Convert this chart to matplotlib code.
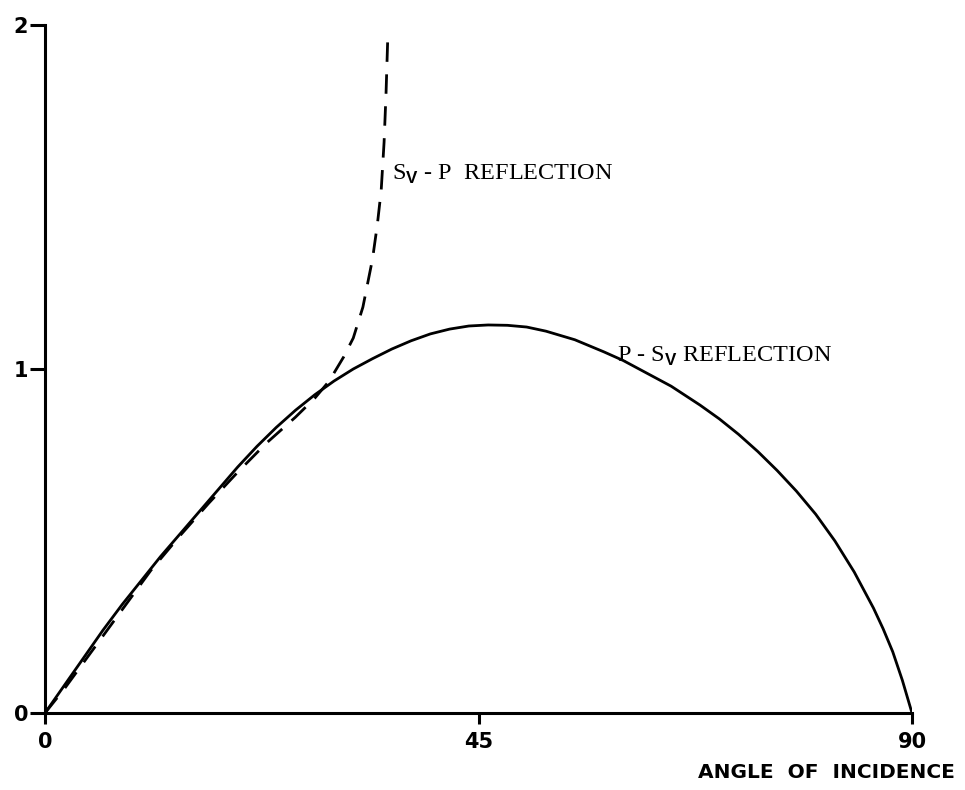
import matplotlib
matplotlib.use("Agg")
import matplotlib.pyplot as plt

plt.rcParams["mathtext.fontset"] = "custom"
plt.rcParams["mathtext.rm"] = "Liberation Serif"
plt.rcParams["mathtext.bf"] = "Liberation Sans:bold"

# P-Sv reflection coefficient vs angle of incidence (degrees)
p_sv_angle = [0, 2, 4, 6, 8, 10, 12, 14, 16, 18, 20, 22, 24, 26, 28, 30, 32, 34,
              36, 38, 40, 42, 44, 46, 48, 50, 52, 55, 58, 60, 62, 65, 68, 70,
              72, 74, 76, 78, 80, 82, 84, 86, 87, 88, 89, 90]
p_sv_value = [0, 0.08, 0.16, 0.24, 0.315, 0.385, 0.455, 0.52, 0.585, 0.65, 0.715,
              0.775, 0.83, 0.88, 0.925, 0.965, 1.0, 1.03, 1.058, 1.082, 1.102,
              1.116, 1.125, 1.128, 1.127, 1.122, 1.11, 1.085, 1.05, 1.025, 0.995,
              0.95, 0.895, 0.855, 0.81, 0.76, 0.705, 0.645, 0.578, 0.5, 0.41,
              0.305, 0.245, 0.178, 0.095, 0]

# Sv-P reflection coefficient vs angle of incidence (degrees)
sv_p_angle = [0, 2, 5, 8, 11, 14, 17, 20, 23, 26, 28, 29.5, 31, 32, 33, 34,
              34.5, 34.9, 35.2, 35.4, 35.6]
sv_p_value = [0, 0.07, 0.185, 0.30, 0.415, 0.515, 0.61, 0.70, 0.785, 0.86, 0.915,
              0.965, 1.035, 1.09, 1.18, 1.32, 1.42, 1.52, 1.66, 1.80, 1.98]

x_ticks = [0, 45, 90]
y_ticks = [0, 1, 2]

fig = plt.figure(figsize=(9.65, 7.9), dpi=100)
ax = fig.add_axes([45 / 965, 1 - 713 / 790, (912 - 45) / 965, (713 - 25) / 790])

ax.plot(p_sv_angle, p_sv_value, color="black", lw=2.0, solid_capstyle="round",
        solid_joinstyle="round")
ax.plot(sv_p_angle, sv_p_value, color="black", lw=2.0, linestyle=(0, (7, 4.5)))

ax.set_xlim(0, 90)
ax.set_ylim(0, 2)
for side in ("top", "right"):
    ax.spines[side].set_visible(False)
for side in ("left", "bottom"):
    ax.spines[side].set_linewidth(2.2)

tick_font = {"family": ["Liberation Sans Narrow", "DejaVu Sans"], "weight": "bold", "size": 15}
ax.set_xticks(x_ticks)
ax.set_xticklabels([str(t) for t in x_ticks], fontdict=tick_font)
ax.set_yticks(y_ticks)
ax.set_yticklabels([str(t) for t in y_ticks], fontdict=tick_font)
ax.tick_params(axis="x", direction="out", width=2.2, length=8, pad=6)
ax.tick_params(axis="y", direction="out", width=2.2, length=11, pad=1)

fig.text(955 / 965, 1 - 778 / 790, "ANGLE  OF  INCIDENCE", ha="right", va="baseline",
         fontsize=14.5, fontweight="bold", family="DejaVu Sans")

serif = "Liberation Serif"
ax.text(36.0, 1.55, r"S$_{\mathbf{V}}$ - P  REFLECTION", fontsize=17.5, family=serif,
        ha="left", va="baseline")
ax.text(59.4, 1.02, r"P - S$_{\mathbf{V}}$ REFLECTION", fontsize=17.5, family=serif,
        ha="left", va="baseline")

fig.savefig("out.png", dpi=100, facecolor="white")
